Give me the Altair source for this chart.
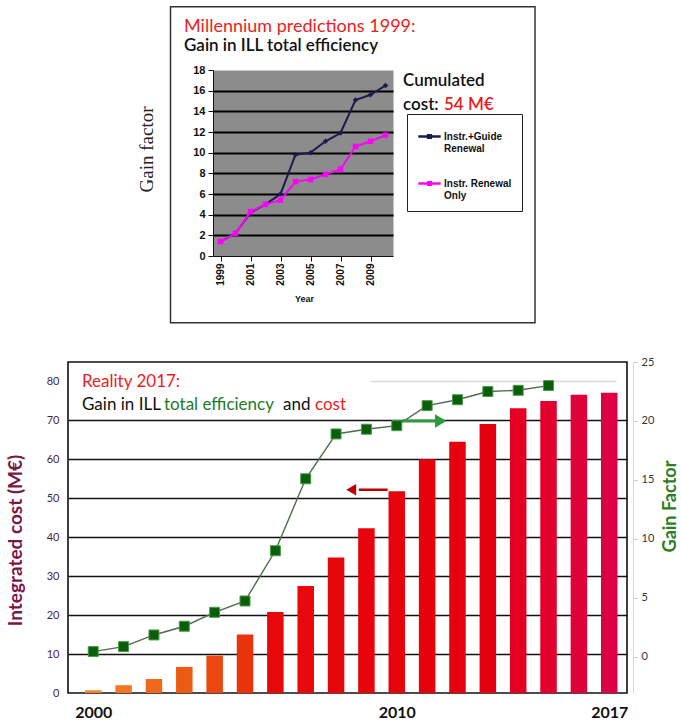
import altair as alt
import pandas as pd

# ---------------- data: top panel (Millennium predictions 1999) ----------------
pred_years = list(range(1999, 2011))
guide_renewal = [1.4, 2.2, 4.2, 5.0, 6.0, 9.8, 10.0, 11.1, 11.9, 15.1, 15.6, 16.5]
instr_only = [1.4, 2.2, 4.3, 5.0, 5.4, 7.2, 7.4, 7.9, 8.4, 10.6, 11.1, 11.7]
series_names = ["Instr.+Guide Renewal", "Instr. Renewal Only"]
top_x_labels = [1999, 2001, 2003, 2005, 2007, 2009]
top_y_ticks = list(range(0, 19, 2))

# ---------------- data: bottom panel (Reality 2017) ----------------
cost_years = list(range(2000, 2018))
integrated_cost = [0.7, 2.0, 3.6, 6.7, 9.6, 15.0, 20.8, 27.5, 34.8, 42.3,
                   51.8, 60.0, 64.5, 69.1, 73.1, 75.0, 76.6, 77.1]
gain_years = list(range(2000, 2016))
gain_factor = [0.45, 0.87, 1.86, 2.6, 3.78, 4.74, 9.0, 15.1, 18.9, 19.3,
               19.6, 21.3, 21.8, 22.5, 22.6, 23.0]
bottom_x_labels = [2000, 2010, 2017]
cost_ticks = list(range(0, 81, 10))
gain_ticks = [0, 5, 10, 15, 20, 25]

# annotation arrows (data coordinates)
green_arrow_x = [2010.18, 2011.3]
green_arrow_head = 2011.45
green_arrow_y = 20
red_arrow_x = [2008.75, 2009.7]
red_arrow_head = 2008.5
red_arrow_y = 52.2
light_line_x = [2009.15, 2017.24]
light_line_y = 80

SANS = "Lato"
ARIAL = "Liberation Sans"

# ================= TOP CHART =================
TW, TH = 180, 186
top_df = pd.DataFrame({
    "year": pred_years * 2,
    "gain": guide_renewal + instr_only,
    "series": [series_names[0]] * len(pred_years) + [series_names[1]] * len(pred_years),
})

x_top = alt.X("year:Q", scale=alt.Scale(domain=[1998.5, 2010.5], nice=False, zero=False),
              axis=alt.Axis(values=top_x_labels, format="d", labelAngle=270, labelFont=ARIAL,
                            labelFontWeight="bold", labelFontSize=10, labelColor="#111",
                            tickColor="#111", domainColor="#111", tickSize=5, grid=False,
                            title="Year", titleFont=ARIAL, titleFontSize=9, titleFontWeight="bold",
                            titleColor="#111", titleX=91, titleY=42, titleBaseline="middle"))
y_top = alt.Y("gain:Q", scale=alt.Scale(domain=[0, 18], nice=False),
              axis=alt.Axis(values=top_y_ticks, grid=True, gridColor="#000", gridWidth=1.8,
                            gridOpacity={"condition": {"test": "datum.value >= 18 || datum.value <= 0", "value": 0}, "value": 1},
                            domainColor="#111", tickColor="#111", tickSize=5, labelFont=ARIAL,
                            labelFontWeight="bold", labelFontSize=11, labelColor="#111", labelPadding=3,
                            title="Gain factor", titleFont="Liberation Serif", titleFontSize=19,
                            titleFontWeight="normal", titleColor="#222", titleAngle=270,
                            titleX=-67, titleY=79, titleBaseline="middle", titleAlign="center"))
color_top = alt.Color("series:N", scale=alt.Scale(domain=series_names, range=["#1b1b4d", "#ff00ff"]),
                      legend=alt.Legend(title=None, orient="none", legendX=339, legendY=44,
                                        fillColor="white", strokeColor="#222", padding=10,
                                        symbolType="M-1,0H1M-0.12,-0.12H0.12V0.12H-0.12Z",
                                        symbolSize=500, symbolStrokeWidth=2.5,
                                        labelFont=ARIAL, labelFontWeight="bold", labelFontSize=10,
                                        labelColor="#111", rowPadding=17, labelOffset=2,
                                        labelExpr="datum.label == 'Instr.+Guide Renewal' ? ['Instr.+Guide', 'Renewal'] : ['Instr. Renewal', 'Only']"))

top_base = alt.Chart(top_df)
black_line = top_base.transform_filter(alt.datum.series == series_names[0]).mark_line(strokeWidth=2).encode(
    x=x_top, y=y_top, color=color_top)
black_pts = top_base.transform_filter(alt.datum.series == series_names[0]).mark_point(
    shape="diamond", filled=True, size=30, opacity=1).encode(x=x_top, y=y_top, color=color_top)
pink_line = top_base.transform_filter(alt.datum.series == series_names[1]).mark_line(strokeWidth=2).encode(
    x=x_top, y=y_top, color=color_top)
pink_pts = top_base.transform_filter(alt.datum.series == series_names[1]).mark_point(
    shape="square", filled=True, size=30, opacity=1).encode(x=x_top, y=y_top, color=color_top)

one = pd.DataFrame({"k": [0]})
frame = alt.Chart(one).mark_rect(fillOpacity=0, stroke="#333", strokeWidth=1.5).encode(
    x=alt.value(-42.5), x2=alt.value(322), y=alt.value(-63.3), y2=alt.value(252.7))


def txt(s, x, y, color="#111", size=18, weight="normal", font=SANS):
    return alt.Chart(one).mark_text(text=s, align="left", baseline="alphabetic", font=font,
                                    fontSize=size, fontWeight=weight, color=color).encode(
        x=alt.value(x), y=alt.value(y))


top_texts = [
    txt("Millennium predictions 1999:", -29, -38, color="#ee1c1c", size=18),
    txt("Gain in ILL total efficiency", -29, -19, color="#111", size=17, weight=600),
    txt("Cumulated", 190, 16, color="#111", size=17, weight=600),
    txt("cost:", 190, 40, color="#111", size=17, weight=600),
    txt("54 M\u20ac", 231, 40, color="#ee1c1c", size=17, weight=600),
]

top_chart = alt.layer(frame, black_line, black_pts, pink_line, pink_pts, *top_texts).properties(
    width=TW, height=TH, view=alt.ViewBackground(fill="#8c8c8c", stroke="transparent"))

spacer = alt.Chart(one).mark_point(size=1, opacity=0).encode(
    x=alt.value(0), y=alt.value(0)).properties(
    width=67, height=10, view=alt.ViewBackground(stroke="transparent", fill="transparent"))

# ================= BOTTOM CHART =================
BW, BH = 559, 331
bar_df = pd.DataFrame({"year": cost_years, "cost": integrated_cost})
gain_df = pd.DataFrame({"year": gain_years, "gain": gain_factor})

x_bot = alt.X("year:Q", scale=alt.Scale(domain=[1999.333, 2017.42], nice=False, zero=False),
              axis=alt.Axis(values=bottom_x_labels, format="d", ticks=False, domain=False, grid=False,
                            labelFont=SANS, labelFontWeight="bold", labelFontSize=16, labelColor="#111",
                            labelPadding=11, labelFlush=False, title=None))
y_cost = alt.Y("cost:Q", scale=alt.Scale(domain=[0, 85], nice=False),
               axis=alt.Axis(values=cost_ticks, grid=True, gridColor="#111", gridWidth=1.3,
                             gridOpacity={"condition": {"test": "datum.value <= 0 || datum.value >= 80", "value": 0}, "value": 1},
                             domain=False, ticks=False, labelFont=SANS, labelFontSize=11,
                             labelColor="#4a1f3f", labelPadding=9,
                             title="Integrated cost (M\u20ac)", titleFont=SANS, titleFontSize=19,
                             titleFontWeight="bold", titleColor="#7a1745", titleAngle=270,
                             titleX=-53, titleY=178, titleBaseline="middle", titleAlign="center"))
y_gain = alt.Y("gain:Q", scale=alt.Scale(domain=[-3.06, 25], nice=False, zero=False),
               axis=alt.Axis(orient="right", values=gain_ticks, grid=False, offset=6,
                             domainColor="#d5d5d5", tickColor="#c8c8c8", tickSize=4, labelPadding=4,
                             labelFont=SANS, labelFontSize=11, labelColor="#333",
                             title="Gain Factor", titleColor="#2e7d1e", titleFont=SANS, titleFontSize=18,
                             titleFontWeight="bold", titleAngle=270, titleX=46, titleY=144,
                             titleBaseline="bottom", titleAlign="center"))

bars = alt.Chart(bar_df).mark_bar(size=16.5).encode(
    x=x_bot, y=y_cost,
    color=alt.Color("year:Q", scale=alt.Scale(domain=[2000, 2006, 2013, 2017],
                                              range=["#f2842e", "#e8080a", "#e5000e", "#dd0045"]),
                    legend=None))

light_df = pd.DataFrame({"year": [light_line_x[0]], "year2": [light_line_x[1]], "cost": [light_line_y]})
light_rule = alt.Chart(light_df).mark_rule(color="#d9d9d9", strokeWidth=1.5).encode(
    x=x_bot, x2="year2:Q", y=y_cost)

red_df = pd.DataFrame({"year": [red_arrow_x[0]], "year2": [red_arrow_x[1]], "cost": [red_arrow_y]})
red_line = alt.Chart(red_df).mark_rule(color="#c00000", strokeWidth=2.5).encode(
    x=x_bot, x2="year2:Q", y=y_cost)
red_head = alt.Chart(pd.DataFrame({"year": [red_arrow_head], "cost": [red_arrow_y]})).mark_point(
    shape="triangle-left", filled=True, size=130, color="#c00000", opacity=1).encode(x=x_bot, y=y_cost)

bottom_texts = [
    txt("Reality 2017:", 14, 25, color="#ee1c1c", size=17),
    txt("Gain in ILL", 14, 48, color="#111", size=17),
    txt("total efficiency", 96, 48, color="#1f7a1f", size=17),
    txt("and", 215, 48, color="#111", size=17),
    txt("cost", 247, 48, color="#ee1c1c", size=17),
]

left_layer = alt.layer(bars, light_rule, red_line, red_head, *bottom_texts)

gain_line = alt.Chart(gain_df).mark_line(color="#4f6b4f", strokeWidth=1.4).encode(x=x_bot, y=y_gain)
gain_pts = alt.Chart(gain_df).mark_square(size=100, color="#0b5e0b", stroke="#4a9a4a",
                                          strokeWidth=1, opacity=1).encode(x=x_bot, y=y_gain)
green_df = pd.DataFrame({"year": [green_arrow_x[0]], "year2": [green_arrow_x[1]], "gain": [green_arrow_y]})
green_line = alt.Chart(green_df).mark_rule(color="#2e9a40", strokeWidth=3).encode(
    x=x_bot, x2="year2:Q", y=y_gain)
green_head = alt.Chart(pd.DataFrame({"year": [green_arrow_head], "gain": [green_arrow_y]})).mark_point(
    shape="triangle-right", filled=True, size=180, color="#2e9a40", opacity=1).encode(x=x_bot, y=y_gain)

right_layer = alt.layer(gain_line, gain_pts, green_line, green_head)

bottom_chart = alt.layer(left_layer, right_layer).resolve_scale(y="independent").properties(
    width=BW, height=BH, view=alt.ViewBackground(fill="white", stroke="#111", strokeWidth=1.6))

chart = alt.vconcat(
    alt.hconcat(spacer, top_chart, spacing=0),
    bottom_chart,
    spacing=31,
).properties(padding={"left": 5, "top": 5, "right": 0, "bottom": 0}, background="white")

chart.save("out.html", embed_options={"renderer": "svg", "actions": False})
